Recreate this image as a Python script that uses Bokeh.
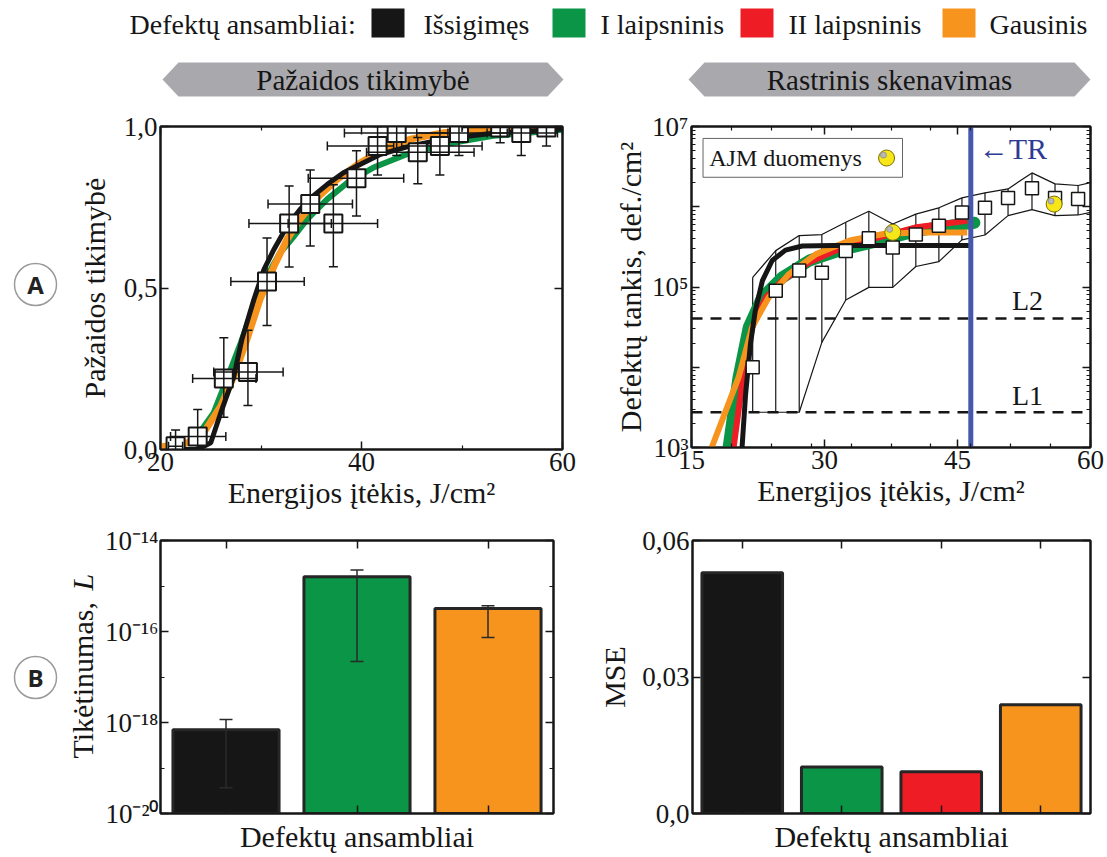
import math
from bokeh.plotting import figure
from bokeh.layouts import row, column
from bokeh.models import (Range1d, FixedTicker, CustomJSTickFormatter,
                          LinearAxis, LogAxis, Whisker, TeeHead, ColumnDataSource)
from bokeh.core.properties import value
from bokeh.embed import file_html
from bokeh.resources import INLINE

SERIF = "Liberation Serif"
SANS = "Open Sans"
INK = "#161616"

# ---------------- data ----------------
ensembles = ["Išsigimęs", "I laipsninis", "II laipsninis", "Gausinis"]
ens_colors = ["#161616", "#0b9546", "#ee1d25", "#f7941e"]

# A1: damage probability vs fluence (J/cm2)
prob_x = [21.5, 23.7, 26.3, 28.7, 30.6, 32.8, 34.9, 37.2, 39.5, 41.6, 43.5, 45.6, 47.8, 49.7, 53.8, 55.9, 58.4]
prob_y = [0.01, 0.04, 0.22, 0.24, 0.52, 0.70, 0.76, 0.70, 0.84, 0.94, 0.98, 0.92, 0.94, 0.98, 0.997, 0.98, 0.997]
prob_x_lo = [20.8, 21.0, 23.2, 25.3, 27.0, 28.8, 30.7, 32.7, 34.7, 36.6, 38.3, 40.5, 44.0, 45.5, 50.0, 52.5, 55.0]
prob_x_hi = [22.2, 26.5, 29.5, 32.2, 34.3, 37.0, 39.1, 41.6, 44.2, 43.2, 48.6, 51.2, 52.0, 54.5, 57.5, 59.5, 62.0]
prob_y_lo = [0.0, 0.0, 0.10, 0.136, 0.384, 0.565, 0.63, 0.566, 0.723, 0.85, 0.91, 0.823, 0.85, 0.91, 0.95, 0.91, 0.94]
prob_y_hi = [0.06, 0.124, 0.346, 0.369, 0.655, 0.816, 0.865, 0.82, 0.925, 1.0, 1.05, 0.966, 1.02, 1.05, 1.05, 1.05, 1.05]

fitA_deg_x = [22.0, 23.5, 24.0, 25.0, 26.0, 27.3, 28.1, 29.3, 30.3, 31.3, 32.6, 33.9, 35.2, 36.6, 38.2, 39.9, 41.9, 44.9, 48.2, 53.1, 60.0]
fitA_deg_y = [0.0, 0.0, 0.005, 0.021, 0.114, 0.227, 0.341, 0.465, 0.558, 0.620, 0.692, 0.744, 0.785, 0.821, 0.857, 0.883, 0.914, 0.940, 0.961, 0.979, 0.992]
fitA_i_x = [20.0, 20.7, 23.3, 25.3, 26.6, 28.0, 29.3, 30.6, 31.9, 33.3, 34.6, 36.6, 38.6, 41.2, 44.5, 48.2, 53.1, 60.0]
fitA_i_y = [0.0, 0.002, 0.026, 0.114, 0.217, 0.331, 0.444, 0.537, 0.609, 0.661, 0.713, 0.775, 0.826, 0.873, 0.914, 0.945, 0.971, 0.990]
fitA_gau_x = [20.0, 22.7, 24.3, 26.0, 27.3, 28.6, 29.9, 31.3, 32.6, 33.9, 35.6, 37.6, 39.9, 42.2, 44.9, 48.2, 53.1, 60.0]
fitA_gau_y = [0.008, 0.021, 0.052, 0.134, 0.227, 0.341, 0.465, 0.568, 0.651, 0.713, 0.780, 0.837, 0.888, 0.930, 0.961, 0.981, 0.994, 1.0]

# A2: raster scan defect density (def./cm2)
scan_x = [21.9, 24.5, 27.15, 29.7, 32.4, 35.0, 37.7, 40.3, 42.9, 45.5, 48.1, 50.7, 53.4, 56.0, 58.6]
scan_y = [1.0e4, 9.0e4, 1.6e5, 1.5e5, 2.8e5, 4.05e5, 3.1e5, 4.5e5, 5.8e5, 8.5e5, 9.7e5, 1.29e6, 1.7e6, 1.29e6, 1.25e6]
scan_hi = [1.32e5, 2.84e5, 4.37e5, 4.5e5, 6.4e5, 8.8e5, 6.1e5, 8.1e5, 9.7e5, 1.29e6, 1.49e6, 1.67e6, 2.64e6, 1.93e6, 1.84e6]
scan_lo = [2.75e3, 2.75e3, 2.75e3, 2.04e4, 6.9e4, 9.9e4, 9.9e4, 1.8e5, 2.07e5, 3.86e5, 4.45e5, 7.76e5, 9.2e5, 7.76e5, 7.9e5]
edge_x = [60.0]
edge_hi = [2.0e6]
edge_lo = [8.5e5]

ajm_x = [37.7, 55.9]
ajm_y = [4.8e5, 1.08e6]

thresholds = [2.75e3, 4.05e4]
threshold_names = ["L1", "L2"]
tr_fluence = 46.5

fitB_deg_x = [20.7, 21.1, 21.65, 22.2, 23.0, 24.1, 25.6, 27.5, 31.0, 46.4]
fitB_deg_y = [1.0e3, 4.6e3, 1.95e4, 5.1e4, 1.2e5, 2.14e5, 2.88e5, 3.24e5, 3.3e5, 3.3e5]
fitB_i_x = [19.18, 20.3, 21.46, 22.98, 25.25, 28.3, 32.1, 35.5, 40.4, 44.2, 46.9]
fitB_i_y = [1.0e3, 7.41e3, 3.16e4, 7.41e4, 1.32e5, 2.14e5, 2.95e5, 3.61e5, 5.01e5, 5.82e5, 6.31e5]
fitB_ii_x = [19.75, 20.7, 21.84, 23.4, 25.25, 28.3, 32.1, 35.5, 40.4, 46.1]
fitB_ii_y = [1.0e3, 6.17e3, 3.16e4, 7.41e4, 1.2e5, 2.04e5, 3.13e5, 3.98e5, 5.55e5, 6.71e5]
fitB_gau_x = [17.28, 20.3, 21.84, 23.7, 26.0, 29.05, 32.85, 36.65, 40.4, 46.1]
fitB_gau_y = [1.0e3, 7.41e3, 3.16e4, 7.41e4, 1.45e5, 2.57e5, 3.8e5, 4.57e5, 4.79e5, 4.79e5]

# B1: likelihood
lik_cats = ["Išsigimęs", "I laipsninis", "Gausinis"]
lik_colors = ["#161616", "#0b9546", "#f7941e"]
lik_vals = [6.9e-19, 1.6e-15, 3.2e-16]
lik_lo = [3.7e-20, 2.2e-17, 7.4e-17]
lik_hi = [1.17e-18, 2.25e-15, 3.7e-16]

# B2: MSE
mse_cats = ensembles
mse_vals = [0.0529, 0.0102, 0.0092, 0.0239]

# ---------------- helpers ----------------
SUP_JS = """
const sup = {"-":"\u207b","0":"\u2070","1":"\u00b9","2":"\u00b2","3":"\u00b3","4":"\u2074","5":"\u2075","6":"\u2076","7":"\u2077","8":"\u2078","9":"\u2079"};
const e = Math.round(Math.log10(tick));
if (SKIP && (Math.abs(e) % 2 == 0)) { return ""; }
return "10" + String(e).split("").map(c => sup[c]).join("");
"""


def log_fmt(skip_even=False):
    return CustomJSTickFormatter(code=SUP_JS.replace("SKIP", "true" if skip_even else "false"))


def comma_fmt(digits):
    return CustomJSTickFormatter(code=(
        "if (tick === 0) { return '0,0'; } return tick.toFixed(%d).replace('.', ',');" % digits))


def blank_fmt():
    return CustomJSTickFormatter(code="return '';")


def style_axis(ax, tick_size="27px"):
    ax.major_label_text_font = SERIF
    ax.major_label_text_font_size = tick_size
    ax.major_label_text_color = INK
    ax.axis_label_text_font = SERIF
    ax.axis_label_text_font_size = "30px"
    ax.axis_label_text_font_style = "normal"
    ax.axis_label_text_color = INK
    ax.major_tick_in = 8
    ax.major_tick_out = 0
    ax.minor_tick_in = 4
    ax.minor_tick_out = 0
    ax.major_tick_line_color = INK
    ax.minor_tick_line_color = INK
    ax.major_tick_line_width = 1.5
    ax.minor_tick_line_width = 1.2
    ax.axis_line_color = INK
    ax.axis_line_width = 2
    ax.major_label_standoff = 3
    ax.axis_label_standoff = 2


def mirror(p, side, kind, ticker):
    ax = kind(ticker=ticker, formatter=blank_fmt())
    style_axis(ax, "1px")
    ax.major_label_standoff = 0
    ax.axis_label_standoff = 0
    p.add_layout(ax, side)


def base_fig(**kw):
    p = figure(output_backend="svg", toolbar_location=None, **kw)
    p.grid.visible = False
    p.outline_line_color = INK
    p.outline_line_width = 2
    p.background_fill_color = "white"
    p.border_fill_color = "white"
    return p


def plain_fig(w, h):
    p = figure(frame_width=w, frame_height=h, x_range=Range1d(0, w), y_range=Range1d(0, h),
               x_axis_location=None, y_axis_location=None, min_border=0,
               output_backend="svg", toolbar_location=None)
    p.grid.visible = False
    p.outline_line_color = None
    p.background_fill_color = "white"
    p.border_fill_color = "white"
    return p


# ---------------- header ----------------
HW, HH = 1107, 110
hdr = plain_fig(HW, HH)
hy = lambda y: HH - y
hdr.text(x=[129], y=[hy(24)], text=["Defektų ansambliai:"], text_font=value(SERIF),
         text_font_size="28px", text_color=INK, text_align="left", text_baseline="middle")
sw_left = [371, 552, 740, 942]
tx_left = [423, 600, 788, 989]
hdr.quad(left=sw_left, right=[v + 33 for v in sw_left], top=[hy(8)] * 4, bottom=[hy(37)] * 4,
         fill_color=ens_colors, line_color=None)
hdr.text(x=tx_left, y=[hy(24)] * 4, text=ensembles, text_font=value(SERIF), text_font_size="28px",
         text_color=INK, text_align="left", text_baseline="middle")
for (l, r, label) in [(162, 563, "Pažaidos tikimybė"), (688, 1090, "Rastrinis skenavimas")]:
    hdr.patch(x=[l, l + 16, r - 16, r, r - 16, l + 16], y=[hy(79), hy(62), hy(62), hy(79), hy(96), hy(96)],
              fill_color="#a9a9ad", line_color=None)
    hdr.text(x=[(l + r) / 2], y=[hy(79)], text=[label], text_font=value(SERIF), text_font_size="29px",
             text_color=INK, text_align="center", text_baseline="middle")

# ---------------- row A ----------------
RA_H = 14 + 323 + 70
sideA = plain_fig(70, RA_H)
sideA.scatter(x=[35], y=[RA_H - 158], size=42, marker="circle", fill_color="white",
              line_color="#9a9a9a", line_width=1.5)
sideA.text(x=[35], y=[RA_H - 158], text=["A"], text_font=value(SANS), text_font_style="bold",
           text_font_size="24px", text_color="#222222", text_align="center", text_baseline="middle")

pA1 = base_fig(frame_width=402, frame_height=323, x_range=Range1d(20, 60), y_range=Range1d(0, 1),
               min_border_left=90, min_border_right=34, min_border_top=14, min_border_bottom=70)
xt1 = FixedTicker(ticks=[20, 40, 60], minor_ticks=[30, 50])
yt1 = FixedTicker(ticks=[0, 0.5, 1.0], minor_ticks=[])
pA1.xaxis.ticker = xt1
pA1.yaxis.ticker = yt1
pA1.yaxis.formatter = comma_fmt(1)
pA1.xaxis.axis_label = "Energijos įtėkis, J/cm²"
pA1.yaxis.axis_label = "Pažaidos tikimybė"
for ax in pA1.xaxis + pA1.yaxis:
    style_axis(ax)
pA1.yaxis.axis_label_standoff = 10
mirror(pA1, "above", LinearAxis, xt1)
mirror(pA1, "right", LinearAxis, yt1)

srcA = ColumnDataSource(dict(x=prob_x, y=prob_y, xl=prob_x_lo, xh=prob_x_hi, yl=prob_y_lo, yh=prob_y_hi))
pA1.line(fitA_i_x, fitA_i_y, line_color=ens_colors[1], line_width=6)
pA1.line(fitA_gau_x, fitA_gau_y, line_color=ens_colors[3], line_width=7)
pA1.line(fitA_deg_x, fitA_deg_y, line_color=ens_colors[0], line_width=5)
for dim, base, lo, hi in [("height", "x", "yl", "yh"), ("width", "y", "xl", "xh")]:
    w = Whisker(source=srcA, base=base, lower=lo, upper=hi, dimension=dim, line_color=INK, line_width=1.5,
                upper_head=TeeHead(size=9, line_color=INK, line_width=1.5),
                lower_head=TeeHead(size=9, line_color=INK, line_width=1.5), level="glyph")
    pA1.add_layout(w)
pA1.scatter("x", "y", source=srcA, marker="square", size=18, fill_color="white", line_color=INK, line_width=2)

pA2 = base_fig(frame_width=399, frame_height=321, x_range=Range1d(15, 60), y_range=Range1d(1e3, 1e7),
               y_axis_type="log", min_border_left=95, min_border_right=17, min_border_top=16,
               min_border_bottom=70)
xt2 = FixedTicker(ticks=[15, 30, 45, 60], minor_ticks=[19.5, 24, 28.5, 33, 37.5, 42, 46.5, 51, 55.5])
ymin2 = [m * 10 ** d for d in range(3, 7) for m in range(2, 10)]
yt2 = FixedTicker(ticks=[1e3, 1e4, 1e5, 1e6, 1e7], minor_ticks=ymin2)
pA2.xaxis.ticker = xt2
pA2.yaxis.ticker = yt2
pA2.yaxis.formatter = log_fmt(skip_even=True)
pA2.xaxis.axis_label = "Energijos įtėkis, J/cm²"
pA2.yaxis.axis_label = "Defektų tankis, def./cm²"
for ax in pA2.xaxis + pA2.yaxis:
    style_axis(ax)
mirror(pA2, "above", LinearAxis, xt2)
mirror(pA2, "right", LogAxis, yt2)

x0, x1 = pA2.x_range.start, pA2.x_range.end
y0, y1 = pA2.y_range.start, pA2.y_range.end
pA2.segment(x0=[x0] * len(thresholds), y0=thresholds, x1=[x1] * len(thresholds), y1=thresholds,
            line_color=INK, line_width=2.5, line_dash="11 8")
env_x = scan_x + edge_x
pA2.line(env_x, scan_hi + edge_hi, line_color=INK, line_width=1.2)
pA2.line(env_x, scan_lo + edge_lo, line_color=INK, line_width=1.2)
pA2.segment(x0=scan_x, y0=scan_lo, x1=scan_x, y1=scan_hi, line_color=INK, line_width=1.2)
pA2.line(fitB_i_x, fitB_i_y, line_color=ens_colors[1], line_width=12, line_cap="round")
pA2.line(fitB_ii_x, fitB_ii_y, line_color=ens_colors[2], line_width=6)
pA2.line(fitB_gau_x, fitB_gau_y, line_color=ens_colors[3], line_width=6)
pA2.line(fitB_deg_x, fitB_deg_y, line_color=ens_colors[0], line_width=5)
pA2.segment(x0=[tr_fluence], y0=[y0], x1=[tr_fluence], y1=[y1], line_color="#4658ad", line_width=5)
pA2.scatter(scan_x, scan_y, marker="square", size=13, fill_color="white", line_color=INK, line_width=1.5)

ajm_hx = [v - 0.35 for v in ajm_x]
ajm_hy = [v * 10 ** (3 / 80.25) for v in ajm_y]
pA2.scatter(ajm_x, ajm_y, marker="circle", size=16, fill_color="#f7e618", line_color="#7d7000", line_width=1)
pA2.scatter(ajm_hx, ajm_hy, marker="circle", size=6, fill_color="#b8b8b8", line_color="#8a8a8a", line_width=0.8)

# legend box for AJM data
pA2.quad(left=[16.3], right=[38.8], top=[7.1e6], bottom=[2.33e6], fill_color="white",
         line_color="#666666", line_width=1)
pA2.text(x=[17.0], y=[4.05e6], text=["AJM duomenys"], text_font=value(SERIF), text_font_size="24px",
         text_color=INK, text_align="left", text_baseline="middle")
pA2.scatter([37.0], [4.05e6], marker="circle", size=16, fill_color="#f7e618", line_color="#7d7000", line_width=1)
pA2.scatter([36.65], [4.05e6 * 10 ** (3 / 80.25)], marker="circle", size=6, fill_color="#b8b8b8",
            line_color="#8a8a8a", line_width=0.8)
pA2.text(x=[47.4], y=[5.32e6], text=["←TR"], text_font=value(SERIF), text_font_size="30px",
         text_color="#2e3b95", text_align="left", text_baseline="middle")
pA2.text(x=[52.9, 52.9], y=[4.45e3, 6.8e4], text=threshold_names, text_font=value(SERIF),
         text_font_size="28px", text_color=INK, text_align="center", text_baseline="middle")

# ---------------- row B ----------------
RB_H = 23 + 273 + 44
SB_W = 100
sideB = plain_fig(SB_W, RB_H)
sideB.scatter(x=[35], y=[RB_H - 137], size=42, marker="circle", fill_color="white",
              line_color="#9a9a9a", line_width=1.5)
sideB.text(x=[35], y=[RB_H - 137], text=["B"], text_font=value(SANS), text_font_style="bold",
           text_font_size="24px", text_color="#222222", text_align="center", text_baseline="middle")
sideB.text(x=[82], y=[RB_H - 218], text=["Tikėtinumas, "], angle=math.pi / 2, text_font=value(SERIF),
           text_font_size="30px", text_color=INK, text_align="left", text_baseline="middle")
sideB.text(x=[82], y=[RB_H - 218 + 168], text=["L"], angle=math.pi / 2, text_font=value(SERIF),
           text_font_style="italic", text_font_size="30px", text_color=INK, text_align="left",
           text_baseline="middle")

lik_pos = [i + 0.5 for i in range(len(lik_cats))]
pB1 = base_fig(frame_width=393, frame_height=273, x_range=Range1d(0, len(lik_cats)),
               y_range=Range1d(1e-20, 1e-14), y_axis_type="log", min_border_left=160 - SB_W, min_border_right=30,
               min_border_top=23, min_border_bottom=44)
xt3 = FixedTicker(ticks=lik_pos, minor_ticks=[])
yt3 = FixedTicker(ticks=[1e-20, 1e-18, 1e-16, 1e-14], minor_ticks=[1e-19, 1e-17, 1e-15])
pB1.xaxis.ticker = xt3
pB1.xaxis.formatter = blank_fmt()
pB1.yaxis.ticker = yt3
pB1.yaxis.formatter = log_fmt()
pB1.xaxis.axis_label = "Defektų ansambliai"
for ax in pB1.xaxis + pB1.yaxis:
    style_axis(ax, "27px")
pB1.yaxis.major_label_standoff = 2
pB1.xaxis.major_label_text_font_size = "1px"
pB1.xaxis.major_label_standoff = 0
pB1.xaxis.axis_label_standoff = 6
mirror(pB1, "above", LinearAxis, xt3)
mirror(pB1, "right", LogAxis, yt3)
srcB1 = ColumnDataSource(dict(pos=lik_pos, val=lik_vals, lo=lik_lo, hi=lik_hi, color=lik_colors))
pB1.vbar(x="pos", top="val", bottom=pB1.y_range.start, width=0.81, source=srcB1, fill_color="color",
         line_color="#262626", line_width=3)
pB1.add_layout(Whisker(source=srcB1, base="pos", lower="lo", upper="hi", dimension="height",
                       line_color="#2a2a2a", line_width=1.5, level="glyph",
                       upper_head=TeeHead(size=13, line_color="#2a2a2a", line_width=1.5),
                       lower_head=TeeHead(size=13, line_color="#2a2a2a", line_width=1.5)))

mse_pos = [i + 0.5 for i in range(len(mse_cats))]
pB2 = base_fig(frame_width=398, frame_height=273, x_range=Range1d(0, len(mse_cats)), y_range=Range1d(0, 0.06),
               min_border_left=109, min_border_right=17, min_border_top=23, min_border_bottom=44)
xt4 = FixedTicker(ticks=mse_pos, minor_ticks=[])
yt4 = FixedTicker(ticks=[0, 0.03, 0.06], minor_ticks=[])
pB2.xaxis.ticker = xt4
pB2.xaxis.formatter = blank_fmt()
pB2.yaxis.ticker = yt4
pB2.yaxis.formatter = comma_fmt(2)
pB2.yaxis.axis_label = "MSE"
pB2.xaxis.axis_label = "Defektų ansambliai"
for ax in pB2.xaxis + pB2.yaxis:
    style_axis(ax)
pB2.xaxis.major_label_text_font_size = "1px"
pB2.xaxis.major_label_standoff = 0
pB2.xaxis.axis_label_standoff = 6
pB2.yaxis.axis_label_standoff = 8
mirror(pB2, "above", LinearAxis, xt4)
mirror(pB2, "right", LinearAxis, yt4)
srcB2 = ColumnDataSource(dict(pos=mse_pos, val=mse_vals, color=ens_colors))
pB2.vbar(x="pos", top="val", bottom=0, width=0.81, source=srcB2, fill_color="color",
         line_color="#262626", line_width=3)

layout = column(hdr, row(sideA, pA1, pA2), row(sideB, pB1, pB2))
open("out.html", "w").write(file_html(layout, INLINE))
